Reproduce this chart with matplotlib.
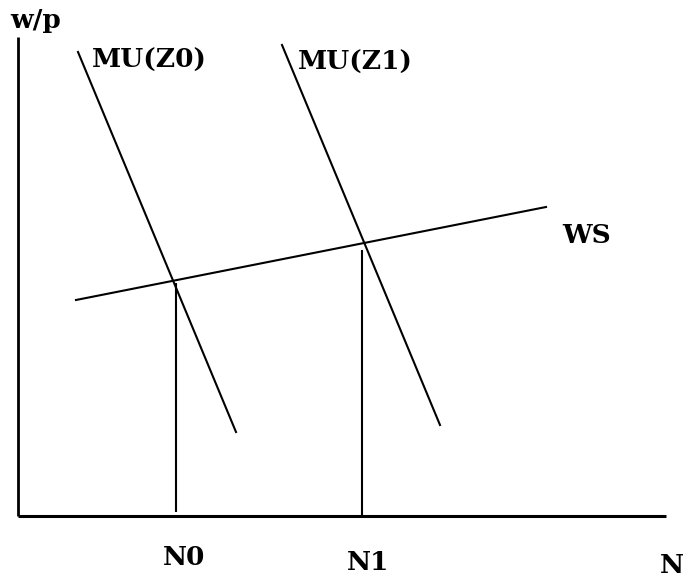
import matplotlib
matplotlib.use("Agg")
import matplotlib.pyplot as plt

# Coordinates in chart units (origin at the axes corner, y up)
mu0_x = [60, 218]
mu0_y = [464, 84]
mu1_x = [264, 422]
mu1_y = [471, 91]
ws_x = [58, 528]
ws_y = [216, 309]
n0_x = [158, 158]
n0_y = [4, 233]
n1_x = [344, 344]
n1_y = [-1, 266]
x_axis_end = 648
y_axis_end = 479

labels = {
    "w/p": (-8, 488),
    "MU(Z0)": (74, 448),
    "MU(Z1)": (280, 446),
    "WS": (544, 273),
    "N0": (145, -49),
    "N1": (329, -54),
    "N": (642, -57),
}

fig = plt.figure(figsize=(6.86, 5.85), dpi=100)
ax = fig.add_axes([0, 0, 1, 1])
ax.set_xlim(-18, 668)
ax.set_ylim(-69, 516)
ax.axis("off")

lw = 1.5
ax.plot([0, 0], [0, y_axis_end], color="black", lw=2.0, solid_capstyle="butt")
ax.plot([0, x_axis_end], [0, 0], color="black", lw=2.2, solid_capstyle="butt")
ax.plot(mu0_x, mu0_y, color="black", lw=lw)
ax.plot(mu1_x, mu1_y, color="black", lw=lw)
ax.plot(ws_x, ws_y, color="black", lw=lw)
ax.plot(n0_x, n0_y, color="black", lw=lw, solid_capstyle="butt")
ax.plot(n1_x, n1_y, color="black", lw=lw, solid_capstyle="butt")

for txt, (x, y) in labels.items():
    ax.text(x, y, txt, family="DejaVu Serif", fontweight="bold",
            fontsize=19, ha="left", va="baseline", color="black")

fig.savefig("out.png", dpi=100, facecolor="white")
